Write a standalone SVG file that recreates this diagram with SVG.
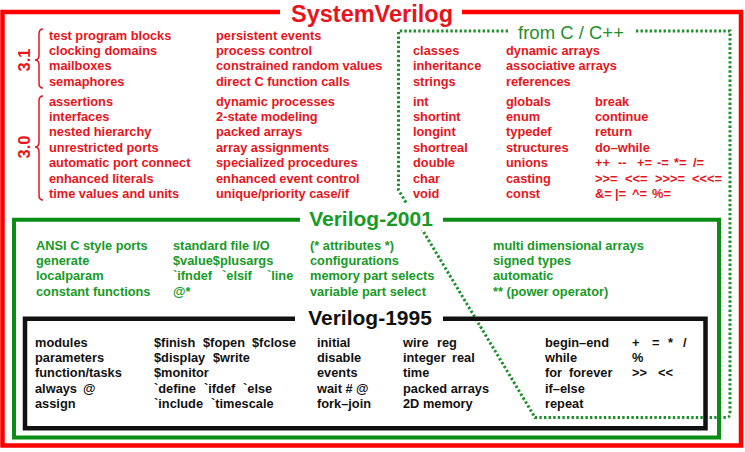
<svg xmlns="http://www.w3.org/2000/svg" width="745" height="452" viewBox="0 0 745 452">
<style>
text{font-family:"Liberation Sans",Arial,Helvetica,sans-serif;font-weight:bold;font-size:12.8px}
.r{fill:#e8141c}
.g{fill:#179a27}
.k{fill:#111111}
.title{font-size:21px}
.box{fill:none;stroke-linejoin:miter}
.dot{fill:none;stroke:#1e8f2c;stroke-width:3;stroke-dasharray:2.4 2.2}
</style>
<rect x="0" y="0" width="745" height="452" fill="#ffffff"/>

<g id="systemverilog">
<path class="box" d="M280 12 H2.5 V445.5 H741 V12 H462" stroke="#ff0000" stroke-width="4.5"/>
<text class="r" x="372" y="22" text-anchor="middle" style="font-size:23.5px">SystemVerilog</text>
<text class="r" transform="translate(30,60) rotate(-90)" text-anchor="middle" style="font-size:16.5px">3.1</text>
<text class="r" transform="translate(30,147) rotate(-90)" text-anchor="middle" style="font-size:16.5px">3.0</text>
<g class="r">
<text x="49" y="39.5">test program blocks</text>
<text x="49" y="54.9">clocking domains</text>
<text x="49" y="70.3">mailboxes</text>
<text x="49" y="85.7">semaphores</text>
<text x="49" y="105.5">assertions</text>
<text x="49" y="120.9">interfaces</text>
<text x="49" y="136.3">nested hierarchy</text>
<text x="49" y="151.7">unrestricted ports</text>
<text x="49" y="167.1">automatic port connect</text>
<text x="49" y="182.5">enhanced literals</text>
<text x="49" y="197.9">time values and units</text>
<text x="216" y="39.5">persistent events</text>
<text x="216" y="54.9">process control</text>
<text x="216" y="70.3">constrained random values</text>
<text x="216" y="85.7">direct C function calls</text>
<text x="216" y="105.5">dynamic processes</text>
<text x="216" y="120.9">2-state modeling</text>
<text x="216" y="136.3">packed arrays</text>
<text x="216" y="151.7">array assignments</text>
<text x="216" y="167.1">specialized procedures</text>
<text x="216" y="182.5">enhanced event control</text>
<text x="216" y="197.9">unique/priority case/if</text>
</g>
</g>

<g id="from-c">
<path class="dot" d="M508 31 H398.5 V190 L535 417.5 H726 Q730 417.5 730 413 V31 H635"/>
<text x="571" y="38.5" text-anchor="middle" style="font-size:18.5px;font-weight:normal;fill:#1e8f2c">from C / C++</text>
<g class="r">
<text x="413" y="54.9">classes</text>
<text x="413" y="70.3">inheritance</text>
<text x="413" y="85.7">strings</text>
<text x="506" y="54.9">dynamic arrays</text>
<text x="506" y="70.3">associative arrays</text>
<text x="506" y="85.7">references</text>
<text x="413" y="105.5">int</text>
<text x="413" y="120.9">shortint</text>
<text x="413" y="136.3">longint</text>
<text x="413" y="151.7">shortreal</text>
<text x="413" y="167.1">double</text>
<text x="413" y="182.5">char</text>
<text x="413" y="197.9">void</text>
<text x="506" y="105.5">globals</text>
<text x="506" y="120.9">enum</text>
<text x="506" y="136.3">typedef</text>
<text x="506" y="151.7">structures</text>
<text x="506" y="167.1">unions</text>
<text x="506" y="182.5">casting</text>
<text x="506" y="197.9">const</text>
<text x="595" y="105.5">break</text>
<text x="595" y="120.9">continue</text>
<text x="595" y="136.3">return</text>
<text x="595" y="151.7">do–while</text>
<text x="595" y="167.1">++</text><text x="618" y="167.1">--</text><text x="637" y="167.1">+=</text><text x="657" y="167.1">-=</text><text x="674" y="167.1">*=</text><text x="693" y="167.1">/=</text>
<text x="595" y="182.5">&gt;&gt;=</text><text x="625" y="182.5">&lt;&lt;=</text><text x="655" y="182.5">&gt;&gt;&gt;=</text><text x="692" y="182.5">&lt;&lt;&lt;=</text>
<text x="595" y="197.9">&amp;=</text><text x="615" y="197.9">|=</text><text x="632" y="197.9">^=</text><text x="652" y="197.9">%=</text>
</g>
</g>

<g id="verilog-2001">
<path class="box" d="M300 219.7 H14 V437.5 H719 V219.7 H443" stroke="#0b8c14" stroke-width="4"/>
<rect x="302" y="204" width="139" height="26" fill="#ffffff"/>
<text class="g title" x="371" y="226" text-anchor="middle">Verilog-2001</text>
<g class="g">
<text x="36" y="249.5">ANSI C style ports</text>
<text x="36" y="264.9">generate</text>
<text x="36" y="280.3">localparam</text>
<text x="36" y="295.7">constant functions</text>
<text x="173" y="249.5">standard file I/O</text>
<text x="173" y="264.9">$value$plusargs</text>
<text x="173" y="280.3">`ifndef</text><text x="222" y="280.3">`elsif</text><text x="267" y="280.3">`line</text>
<text x="173" y="295.7">@*</text>
<text x="310" y="249.5">(* attributes *)</text>
<text x="310" y="264.9">configurations</text>
<text x="310" y="280.3">memory part selects</text>
<text x="310" y="295.7">variable part select</text>
<text x="493" y="249.5">multi dimensional arrays</text>
<text x="493" y="264.9">signed types</text>
<text x="493" y="280.3">automatic</text>
<text x="493" y="295.7">** (power operator)</text>
</g>
</g>

<g id="verilog-1995">
<path class="box" d="M295 318.7 H25 V428.3 H705.5 V318.7 H443" stroke="#111111" stroke-width="4.5"/>
<text class="k title" x="370" y="325" text-anchor="middle">Verilog-1995</text>
<g class="k">
<text x="35" y="346.5">modules</text>
<text x="35" y="361.9">parameters</text>
<text x="35" y="377.3">function/tasks</text>
<text x="35" y="392.7">always</text><text x="83" y="392.7">@</text>
<text x="35" y="408.1">assign</text>
<text x="154" y="346.5">$finish</text><text x="203" y="346.5">$fopen</text><text x="252" y="346.5">$fclose</text>
<text x="154" y="361.9">$display</text><text x="213" y="361.9">$write</text>
<text x="154" y="377.3">$monitor</text>
<text x="154" y="392.7">`define</text><text x="204" y="392.7">`ifdef</text><text x="243" y="392.7">`else</text>
<text x="154" y="408.1">`include</text><text x="211" y="408.1">`timescale</text>
<text x="317" y="346.5">initial</text>
<text x="317" y="361.9">disable</text>
<text x="317" y="377.3">events</text>
<text x="317" y="392.7">wait # @</text>
<text x="317" y="408.1">fork–join</text>
<text x="403" y="346.5">wire</text><text x="437" y="346.5">reg</text>
<text x="403" y="361.9">integer</text><text x="452" y="361.9">real</text>
<text x="403" y="377.3">time</text>
<text x="403" y="392.7">packed arrays</text>
<text x="403" y="408.1">2D memory</text>
<text x="545" y="346.5">begin–end</text>
<text x="545" y="361.9">while</text>
<text x="545" y="377.3">for</text><text x="569" y="377.3">forever</text>
<text x="545" y="392.7">if–else</text>
<text x="545" y="408.1">repeat</text>
<text x="632" y="346.5">+</text><text x="652" y="346.5">=</text><text x="668" y="346.5">*</text><text x="683" y="346.5">/</text>
<text x="632" y="361.9">%</text>
<text x="632" y="377.3">&gt;&gt;</text><text x="658" y="377.3">&lt;&lt;</text>
</g>
</g>

<g id="connectors">
<path d="M43 29 Q39 29 39 34 V55 Q39 60 35 60 Q39 60 39 65 V83 Q39 88 43 88" fill="none" stroke="#e8141c" stroke-width="1.5"/>
<path d="M43 96 Q39 96 39 101 V142 Q39 147 35 147 Q39 147 39 152 V195 Q39 200 43 200" fill="none" stroke="#e8141c" stroke-width="1.5"/>
</g>
</svg>
